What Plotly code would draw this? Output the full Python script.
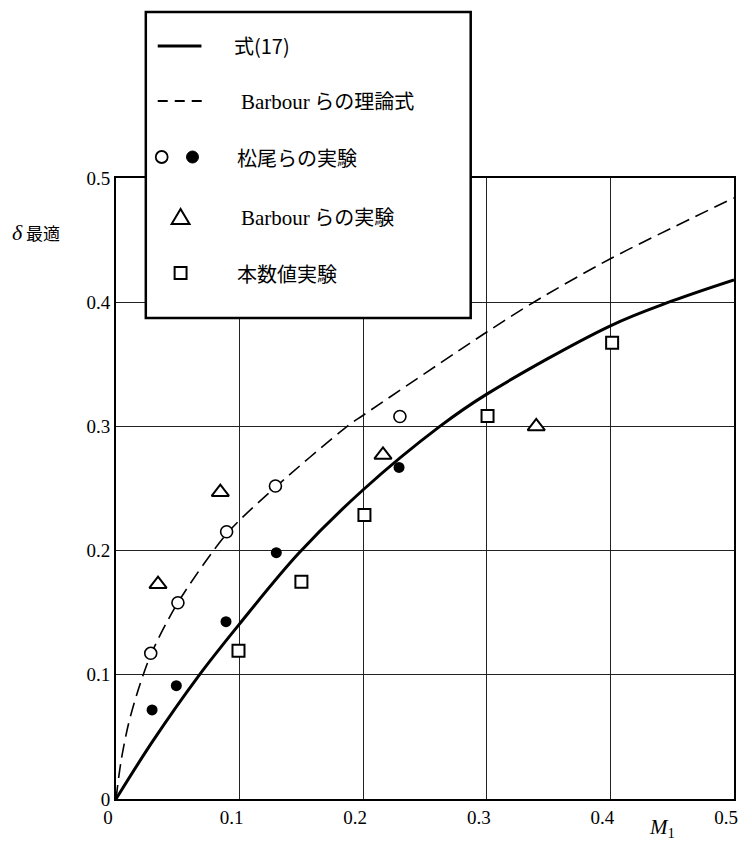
import plotly.graph_objects as go

# ---------------- data ----------------
# 式(17) curve
m_eq17 = [0, 0.03, 0.066, 0.1, 0.148, 0.2, 0.262, 0.3, 0.4, 0.45, 0.5]
d_eq17 = [0, 0.047, 0.098, 0.141, 0.198, 0.249, 0.3, 0.326, 0.381, 0.401, 0.418]
# Barbour らの理論式 curve
m_barbour_th = [0, 0.004, 0.01, 0.018, 0.0285, 0.05, 0.09, 0.13, 0.187, 0.2, 0.3, 0.338, 0.4, 0.5]
d_barbour_th = [0, 0.03, 0.06, 0.088, 0.117, 0.158, 0.214, 0.252, 0.3, 0.309, 0.376, 0.4, 0.435, 0.484]
# 松尾らの実験 (open / filled)
m_matsuo_open = [0.0281, 0.0501, 0.0895, 0.129, 0.2297]
d_matsuo_open = [0.1173, 0.158, 0.2152, 0.252, 0.308]
m_matsuo_fill = [0.0292, 0.0488, 0.089, 0.1297, 0.229]
d_matsuo_fill = [0.0717, 0.0912, 0.1428, 0.1983, 0.267]
# Barbour らの実験
m_barbour_ex = [0.034, 0.0844, 0.216, 0.340]
d_barbour_ex = [0.173, 0.247, 0.277, 0.300]
# 本数値実験
m_numeric = [0.0991, 0.150, 0.201, 0.3006, 0.4014]
d_numeric = [0.1194, 0.175, 0.2287, 0.3084, 0.3674]

x_ticks = [0, 0.1, 0.2, 0.3, 0.4, 0.5]
x_labels = ["0", "0.1", "0.2", "0.3", "0.4", "0.5"]
y_ticks = [0, 0.1, 0.2, 0.3, 0.4, 0.5]
y_labels = ["0", "0.1", "0.2", "0.3", "0.4", "0.5"]

legend_labels = [
    "式(17)",
    '<span style="font-family:Liberation Serif;font-size:21px">Barbour</span> らの理論式',
    "松尾らの実験",
    '<span style="font-family:Liberation Serif;font-size:21px">Barbour</span> らの実験',
    "本数値実験",
]

# ---------------- layout geometry (page pixels) ----------------
OFF = 8                      # default body margin of the html page
PAGE_W, PAGE_H = 752, 850
L, R, T, B = 116, 738, 178, 799

def px(x):
    return (x - L) / (R - L)

def py(y):
    return (B - y) / (B - T)

SERIF = "Liberation Serif"
CJK = "Noto Sans CJK JP"

fig = go.Figure()

fig.add_trace(go.Scatter(x=m_barbour_th, y=d_barbour_th, mode="lines",
                         line=dict(color="black", width=1.6, dash="14px,7px", shape="spline", smoothing=0.8),
                         showlegend=False, hoverinfo="skip"))
fig.add_trace(go.Scatter(x=m_eq17, y=d_eq17, mode="lines",
                         line=dict(color="black", width=3, shape="spline", smoothing=1.0),
                         showlegend=False, hoverinfo="skip"))
fig.add_trace(go.Scatter(x=m_matsuo_open, y=d_matsuo_open, mode="markers",
                         marker=dict(symbol="circle", size=12, color="white",
                                     line=dict(color="black", width=1.6)),
                         showlegend=False))
fig.add_trace(go.Scatter(x=m_matsuo_fill, y=d_matsuo_fill, mode="markers",
                         marker=dict(symbol="circle", size=11, color="black",
                                     line=dict(color="black", width=0)),
                         showlegend=False))
fig.add_trace(go.Scatter(x=m_barbour_ex, y=d_barbour_ex, mode="markers",
                         marker=dict(symbol="triangle-up", size=15, color="white",
                                     line=dict(color="black", width=2)),
                         showlegend=False))
fig.add_trace(go.Scatter(x=m_numeric, y=d_numeric, mode="markers",
                         marker=dict(symbol="square", size=12, color="white",
                                     line=dict(color="black", width=2)),
                         showlegend=False))

axis_common = dict(showgrid=True, gridcolor="#222", gridwidth=1, zeroline=False,
                   showline=True, linecolor="black", linewidth=2, mirror=True,
                   ticks="", ticklabeloverflow="allow",
                   tickfont=dict(family=SERIF, size=19, color="black"))

fig.update_xaxes(range=[0, 0.5], tickvals=x_ticks, ticktext=x_labels,
                 ticklabelshift=-8, **axis_common)
fig.update_yaxes(range=[0, 0.5], tickvals=y_ticks, ticktext=y_labels, **axis_common)

shapes = []
annotations = []

# legend box
shapes.append(dict(type="rect", xref="paper", yref="paper",
                   x0=px(146), x1=px(473), y0=py(318), y1=py(12),
                   fillcolor="white", line=dict(color="black", width=2.5), layer="above"))

rows = [46, 101, 157, 217, 273]
text_x = [233, 240, 236, 240, 236]

# row 1: solid sample
shapes.append(dict(type="line", xref="paper", yref="paper",
                   x0=px(158), x1=px(202), y0=py(rows[0]), y1=py(rows[0]),
                   line=dict(color="black", width=3), layer="above"))
# row 2: dashed sample
shapes.append(dict(type="line", xref="paper", yref="paper",
                   x0=px(158), x1=px(203), y0=py(rows[1]), y1=py(rows[1]),
                   line=dict(color="black", width=2, dash="10px,7px"), layer="above"))
# row 3: open + filled circles
r = 6
shapes.append(dict(type="circle", xref="paper", yref="paper",
                   x0=px(162 - r), x1=px(162 + r), y0=py(rows[2] + r), y1=py(rows[2] - r),
                   fillcolor="white", line=dict(color="black", width=1.8), layer="above"))
shapes.append(dict(type="circle", xref="paper", yref="paper",
                   x0=px(193 - r), x1=px(193 + r), y0=py(rows[2] + r), y1=py(rows[2] - r),
                   fillcolor="black", line=dict(color="black", width=1), layer="above"))
# row 4: triangle
cx, cy = 181, rows[3]
tri = "M {a},{b} L {c},{d} L {e},{f} Z".format(
    a=px(cx - 9), b=py(cy + 7), c=px(cx + 9), d=py(cy + 7), e=px(cx), f=py(cy - 8))
shapes.append(dict(type="path", xref="paper", yref="paper", path=tri,
                   fillcolor="white", line=dict(color="black", width=2), layer="above"))
# row 5: square
cx, cy = 181, rows[4]
shapes.append(dict(type="rect", xref="paper", yref="paper",
                   x0=px(cx - 6), x1=px(cx + 6), y0=py(cy + 6), y1=py(cy - 6),
                   fillcolor="white", line=dict(color="black", width=2), layer="above"))

for lbl, yy, xx in zip(legend_labels, rows, text_x):
    annotations.append(dict(text=lbl, xref="paper", yref="paper", x=px(xx), y=py(yy),
                            xanchor="left", yanchor="middle", showarrow=False,
                            font=dict(family=CJK, size=20, color="black")))

# axis titles
annotations.append(dict(
    text='<span style="font-family:Liberation Serif;font-style:italic;font-size:22px">δ</span> 最適',
    xref="paper", yref="paper", x=px(9), y=py(233), xanchor="left", yanchor="middle",
    showarrow=False, font=dict(family=CJK, size=17, color="black")))
annotations.append(dict(
    text="<i>M</i><sub>1</sub>",
    xref="paper", yref="paper", x=px(650), y=py(828), xanchor="left", yanchor="middle",
    showarrow=False, font=dict(family=SERIF, size=21, color="black")))

FIG_W = PAGE_W - 2 * OFF      # no horizontal overflow
FIG_H = PAGE_H - 2 * OFF      # no vertical overflow
fig.update_layout(width=FIG_W, height=FIG_H,
                  margin=dict(l=L - OFF, r=FIG_W - (R - OFF), t=T - OFF, b=FIG_H - (B - OFF)),
                  plot_bgcolor="white", paper_bgcolor="white",
                  shapes=shapes, annotations=annotations, showlegend=False)

fig.write_html("out.html")
